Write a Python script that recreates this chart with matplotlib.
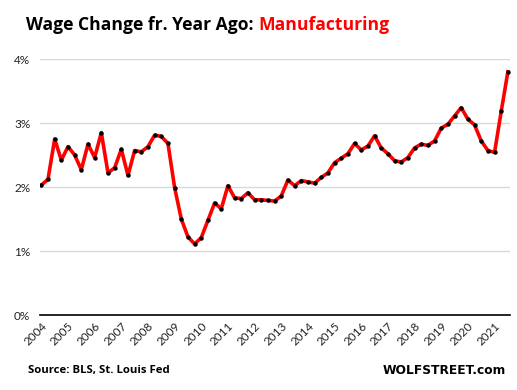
import numpy as np
import matplotlib.pyplot as plt

years = list(range(2004, 2022))
wage_change = [
    2.03, 2.12, 2.75, 2.42, 2.63, 2.50, 2.27, 2.67, 2.46, 2.85, 2.22, 2.30,
    2.59, 2.18, 2.57, 2.55, 2.63, 2.81, 2.79, 2.68, 1.99, 1.50, 1.22, 1.11,
    1.21, 1.48, 1.75, 1.66, 2.02, 1.83, 1.82, 1.91, 1.80, 1.80, 1.79, 1.78,
    1.86, 2.11, 2.02, 2.10, 2.08, 2.06, 2.15, 2.22, 2.38, 2.45, 2.52, 2.68,
    2.58, 2.64, 2.80, 2.61, 2.52, 2.41, 2.39, 2.46, 2.61, 2.67, 2.65, 2.72,
    2.92, 2.98, 3.11, 3.24, 3.06, 2.97, 2.72, 2.57, 2.54, 3.18, 3.80,
]

x = 2004 + np.arange(len(wage_change)) / 4.0

fig = plt.figure(figsize=(5.17, 3.9), dpi=100)
ax = fig.add_axes([40 / 517, 75 / 390, 470 / 517, 256 / 390])

ax.plot(x, wage_change, color="#ff0000", lw=2.6, zorder=3, solid_joinstyle="round")
ax.plot(x, wage_change, "o", color="black", ms=2.2, zorder=4)

ax.set_xlim(2004 - 0.05, x[-1] + 0.08)
ax.set_ylim(0, 4)
ax.set_yticks([0, 1, 2, 3, 4])
ax.set_yticklabels(["0%", "1%", "2%", "3%", "4%"], fontsize=8.5, family="Lato", color="#222222")
ax.set_xticks(years)
ax.set_xticklabels([str(y) for y in years], rotation=45, ha="right", va="top",
                   rotation_mode="anchor", fontsize=8.5, family="Lato", color="#222222")
ax.tick_params(length=0, pad=7)
ax.tick_params(axis="x", pad=4)
ax.yaxis.grid(True, color="#d9d9d9", lw=1)
ax.set_axisbelow(True)
for s in ["top", "right", "left"]:
    ax.spines[s].set_visible(False)
ax.spines["bottom"].set_color("black")
ax.spines["bottom"].set_linewidth(1.2)

t1 = fig.text(26 / 517, 1 - 25 / 390, "Wage Change fr. Year Ago: ", fontsize=12.6,
              fontweight="bold", family="Open Sans", va="center", ha="left")
fig.canvas.draw()
bb = t1.get_window_extent()
fig.text(bb.x1 / fig.bbox.width, 1 - 25 / 390, "Manufacturing", fontsize=12.6,
         fontweight="bold", family="Open Sans", color="#ff0000", va="center", ha="left")

fig.text(28 / 517, 1 - 370 / 390, "Source: BLS, St. Louis Fed", fontsize=8.2,
         fontweight="bold", family="Open Sans", va="center", ha="left")
fig.text(506 / 517, 1 - 370 / 390, "WOLFSTREET.com", fontsize=8.8,
         fontweight="bold", family="DejaVu Sans", va="center", ha="right")

fig.savefig("out.png", dpi=100)
